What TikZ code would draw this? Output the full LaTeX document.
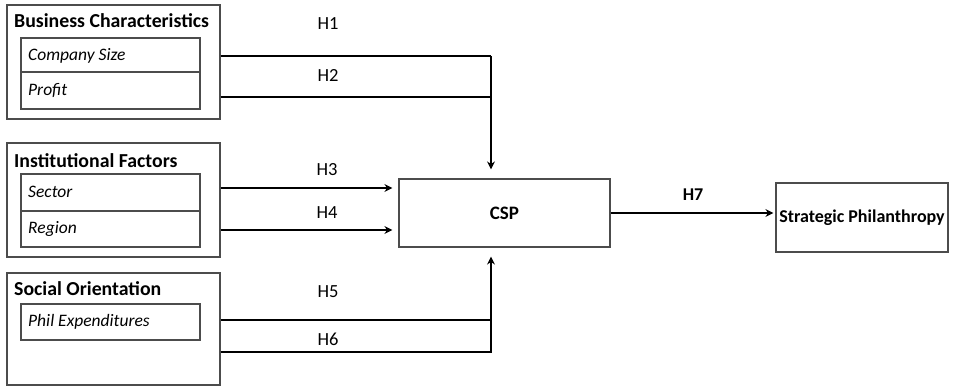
\documentclass[tikz,border=0pt]{standalone}
\usepackage{fontspec}
\setmainfont{Carlito}
\usetikzlibrary{arrows.meta}
\begin{document}
\begin{tikzpicture}[x=1pt,y=-1pt,
  groupbox/.style={draw=black!70,line width=1.2pt,minimum width=213pt,inner sep=0pt},
  itembox/.style={draw=black!70,line width=1.2pt,minimum width=179pt,inner sep=0pt},
  grouptitle/.style={anchor=base west,inner sep=0pt,font=\fontsize{19.8}{21}\selectfont\bfseries},
  itemtext/.style={anchor=west,inner sep=0pt,font=\fontsize{17.5}{19}\selectfont\itshape},
  hlabel/.style={inner sep=0pt,font=\fontsize{18.5}{20}\selectfont},
  mainbox/.style={draw=black!70,line width=1.2pt,inner sep=0pt},
  link/.style={line width=1.5pt,line join=miter},
  arrowlink/.style={link,-{Stealth[length=8pt,width=8pt]}}]
\useasboundingbox (0,0) rectangle (959,387);

% Business characteristics
\node[groupbox,minimum height=114pt] (biz) at (113.5,62) {};
\node[grouptitle] (bizt) at (14,28) {Business Characteristics};
\node[itembox,minimum height=34pt] (size) at (110.5,55) {};
\node[itembox,minimum height=37pt] (profit) at (110.5,90.5) {};
\node[itemtext] (sizet) at (28,56) {Company Size};
\node[itemtext] (profitt) at (28,90) {Profit};

% Institutional factors
\node[groupbox,minimum height=114pt] (inst) at (113.5,200) {};
\node[grouptitle] (instt) at (14,168) {Institutional Factors};
\node[itembox,minimum height=37pt] (sector) at (110.5,192.5) {};
\node[itembox,minimum height=36pt] (region) at (110.5,229) {};
\node[itemtext] (sectort) at (28,192) {Sector};
\node[itemtext] (regiont) at (28,229) {Region};

% Social orientation
\node[groupbox,minimum height=112pt] (soc) at (113.5,329) {};
\node[grouptitle] (soct) at (14,296) {Social Orientation};
\node[itembox,minimum height=36pt] (phil) at (110.5,322) {};
\node[itemtext] (philt) at (28,322) {Phil Expenditures};

% Outcome boxes
\node[mainbox,minimum width=211pt,minimum height=68pt,
      font=\fontsize{19}{21}\selectfont\bfseries] (csp) at (504.5,213) {CSP};
\node[mainbox,minimum width=172pt,minimum height=69pt,
      font=\fontsize{18}{20}\selectfont\bfseries] (sp) at (862,217.5) {Strategic Philanthropy};

% Rail levels and the vertical collector
\coordinate (r1) at (0,56);
\coordinate (r2) at (0,97);
\coordinate (r3) at (0,188);
\coordinate (r4) at (0,230);
\coordinate (r5) at (0,320);
\coordinate (r6) at (0,352);
\coordinate (rail) at (491,0);

% Connectors
\draw[link] (r1 -| biz.east) -- (r1 -| rail);
\draw[arrowlink,shorten >=9pt] (r2 -| biz.east) -| (rail |- csp.north);
\draw[link] (r1 -| rail) -- (r2 -| rail);
\draw[arrowlink,shorten >=6pt] (r3 -| inst.east) -- (r3 -| csp.west);
\draw[arrowlink,shorten >=6pt] (r4 -| inst.east) -- (r4 -| csp.west);
\draw[link] (r5 -| soc.east) -- (r5 -| rail);
\draw[arrowlink,shorten >=9pt] (r6 -| soc.east) -| (rail |- csp.south);
\draw[arrowlink,shorten >=2pt] (csp.east) -- (csp.east -| sp.west);

% Hypothesis labels
\node[hlabel] (h1) at (328,24) {H1};
\node[hlabel] (h2) at (328,76) {H2};
\node[hlabel] (h3) at (327,170) {H3};
\node[hlabel] (h4) at (327,213) {H4};
\node[hlabel] (h5) at (328,292) {H5};
\node[hlabel] (h6) at (328,339) {H6};
\node[hlabel,font=\fontsize{18}{20}\selectfont\bfseries] (h7) at (693,195) {H7};
\end{tikzpicture}
\end{document}
